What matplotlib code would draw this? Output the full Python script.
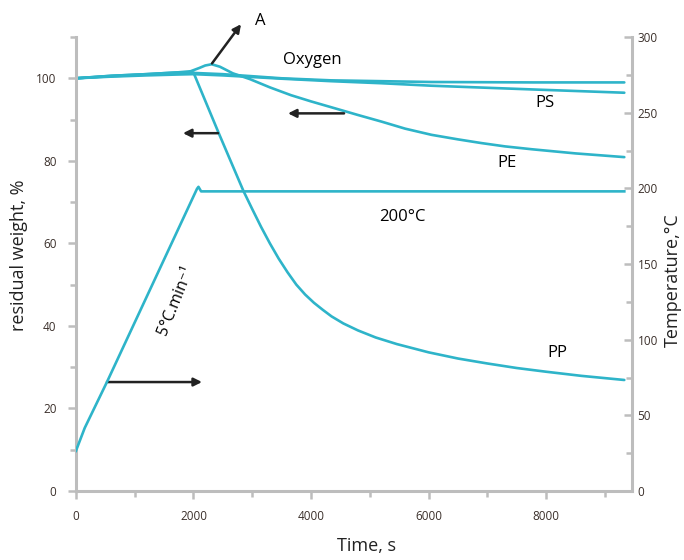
import matplotlib
matplotlib.use("Agg")
import matplotlib.pyplot as plt
from matplotlib.ticker import MultipleLocator

plt.rcParams['font.family'] = ['Open Sans', 'DejaVu Sans']

# temperature programme (right axis, degC)
temp_t = [0, 150, 530, 2060, 2085, 2130, 9330]
temp_c = [26.5, 41.7, 72.2, 199.7, 201.0, 198.0, 198.0]

# residual weight curves (left axis, %)
pp_t = [0, 600, 1200, 1700, 2000, 2430, 2850, 3000, 3150, 3300, 3450, 3600,
        3750, 3900, 4050, 4200, 4350, 4550, 4800, 5100, 5460, 6000, 6500,
        7000, 7500, 8000, 8600, 9330]
pp_w = [100, 100.6, 101.0, 101.4, 101.4, 86.7, 72.7, 68.3, 64.0, 60.0, 56.3,
        53.0, 50.0, 47.6, 45.6, 43.9, 42.3, 40.6, 38.9, 37.2, 35.6, 33.6, 32.1,
        30.9, 29.8, 28.9, 27.9, 26.9]

pe_t = [0, 600, 1200, 1700, 1950, 2100, 2200, 2310, 2450, 2670, 2960, 3300,
        3660, 4000, 4340, 4800, 5200, 5600, 6050, 6500, 6900, 7300, 7760,
        8500, 9330]
pe_w = [100, 100.6, 101.0, 101.4, 101.7, 102.5, 103.1, 103.4, 102.8, 101.2,
        99.8, 97.8, 95.9, 94.4, 93.0, 91.1, 89.5, 87.8, 86.3, 85.2, 84.3, 83.5,
        82.8, 81.8, 80.9]

ps_t = [0, 600, 1200, 1700, 2000, 2500, 3000, 3500, 4340, 5200, 6050, 7760, 9330]
ps_w = [100, 100.4, 100.7, 100.9, 101.0, 100.7, 100.3, 99.9, 99.3, 98.8, 98.2,
        97.3, 96.5]

top_t = [0, 600, 1200, 1700, 2000, 2500, 3000, 3500, 4340, 5200, 6050, 7760, 9330]
top_w = [100, 100.5, 100.9, 101.2, 101.3, 101.0, 100.5, 100.0, 99.5, 99.3,
         99.1, 99.0, 99.0]

line_col = '#2eb4c9'
axis_col = '#bdbdbd'
tick_txt = '#3b302b'

fig = plt.figure(figsize=(6.84, 5.6), dpi=100)
ax = fig.add_axes([0.111, 0.1232, 0.8129, 0.8107])
ax2 = ax.twinx()

for t, w in [(top_t, top_w), (ps_t, ps_w), (pe_t, pe_w), (pp_t, pp_w)]:
    ax.plot(t, w, color=line_col, lw=1.9, solid_capstyle='round',
            solid_joinstyle='round')
ax2.plot(temp_t, temp_c, color=line_col, lw=1.9)

ax.set_xlim(0, 9460)
ax.set_ylim(0, 110)
ax2.set_ylim(0, 300)

ax.xaxis.set_major_locator(MultipleLocator(2000))
ax.xaxis.set_minor_locator(MultipleLocator(1000))
ax.yaxis.set_major_locator(MultipleLocator(20))
ax.yaxis.set_minor_locator(MultipleLocator(10))
ax2.yaxis.set_major_locator(MultipleLocator(50))
ax2.yaxis.set_minor_locator(MultipleLocator(25))
ax.set_yticks([0, 20, 40, 60, 80, 100])

for a in (ax, ax2):
    for s in a.spines.values():
        s.set_color(axis_col)
        s.set_linewidth(2.2)
    a.spines['top'].set_visible(False)
ax.spines['right'].set_visible(False)
ax2.spines['left'].set_visible(False)
ax2.spines['bottom'].set_visible(False)

ax.tick_params(which='major', length=6, width=1.8, color=axis_col,
               labelsize=8.5, labelcolor=tick_txt, pad=8)
ax.tick_params(which='minor', length=4, width=1.8, color=axis_col)
ax2.tick_params(which='major', direction='in', length=6, width=1.8,
                color=axis_col, labelsize=8.5, labelcolor=tick_txt, pad=4)
ax2.tick_params(which='minor', direction='in', length=4, width=1.8,
                color=axis_col)

ax.set_xlabel('Time, s', fontsize=13, color='#222222')
ax.xaxis.set_label_coords(0.523, -0.102)
ax.set_ylabel('residual weight, %', fontsize=13, color='#222222')
ax.yaxis.set_label_coords(-0.086, 0.52)
ax2.set_ylabel('Temperature,°C', fontsize=13, color='#222222')
ax2.yaxis.set_label_coords(1.057, 0.465)

# annotations
arrow = dict(arrowstyle='-|>', color='#222222', lw=1.8, mutation_scale=12,
             shrinkA=0, shrinkB=0)
ax.annotate('', xy=(2809, 113.1), xytext=(2315, 103.6), arrowprops=arrow,
            annotation_clip=False)
ax.text(3047, 114.0, 'A', fontsize=12, ha='left', va='center', clip_on=False)
ax.text(4017, 104.4, 'Oxygen', fontsize=12, ha='center', va='center')
ax.annotate('', xy=(1821, 86.7), xytext=(2417, 86.7), arrowprops=arrow)
ax.annotate('', xy=(3608, 91.5), xytext=(4562, 91.5), arrowprops=arrow)
ax.annotate('', xy=(2145, 26.4), xytext=(528, 26.4), arrowprops=arrow)

ax.text(7983, 93.9, 'PS', fontsize=12, ha='center', va='center')
ax.text(7336, 79.4, 'PE', fontsize=12, ha='center', va='center')
ax.text(5549, 66.3, '200°C', fontsize=12, ha='center', va='center')
ax.text(8187, 33.4, 'PP', fontsize=12, ha='center', va='center')
ax.text(1700, 46.2, '5°C.min⁻¹', fontsize=11.5, ha='center', va='center',
        rotation=68)

fig.savefig('out.png', dpi=100)
